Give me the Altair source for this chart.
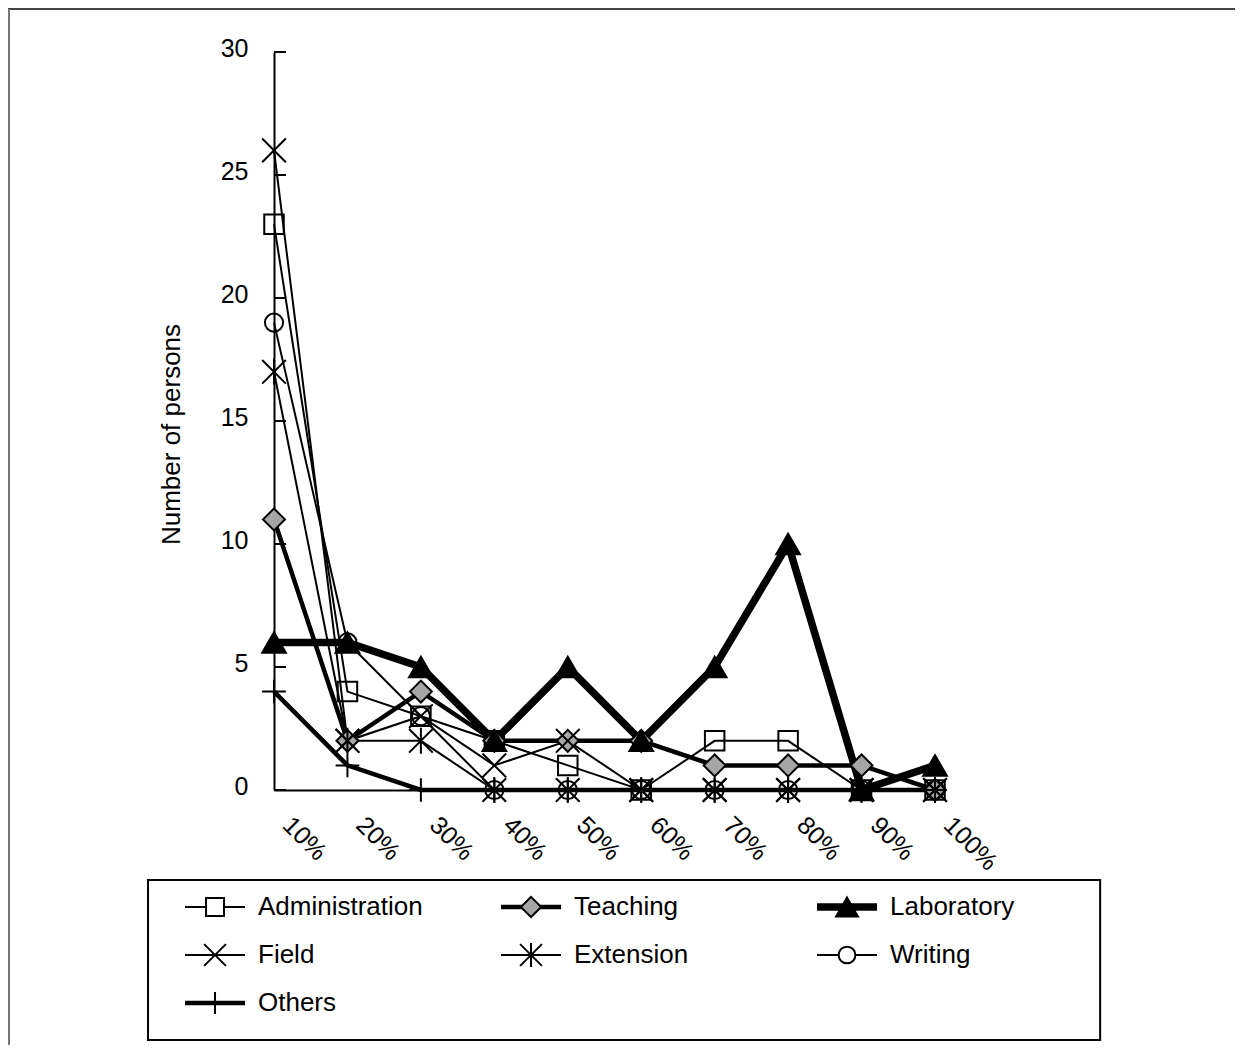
import altair as alt
import pandas as pd

# ---- data ----
categories = ["10%", "20%", "30%", "40%", "50%", "60%", "70%", "80%", "90%", "100%"]
series_names = ["Administration", "Teaching", "Laboratory", "Field", "Extension", "Writing", "Others"]
administration = [23, 4, 3, 2, 1, 0, 2, 2, 0, 0]
teaching = [11, 2, 4, 2, 2, 2, 1, 1, 1, 0]
laboratory = [6, 6, 5, 2, 5, 2, 5, 10, 0, 1]
field = [26, 2, 3, 1, 2, 0, 0, 0, 0, 0]
extension = [17, 2, 2, 0, 0, 0, 0, 0, 0, 0]
writing = [19, 6, 3, 0, 0, 0, 0, 0, 0, 0]
others = [4, 1, 0, 0, 0, 0, 0, 0, 0, 0]
y_ticks = [0, 5, 10, 15, 20, 25, 30]

all_values = [administration, teaching, laboratory, field, extension, writing, others]
rows = []
for name, vals in zip(series_names, all_values):
    for c, v in zip(categories, vals):
        rows.append({"series": name, "cat": c, "value": v})
df = pd.DataFrame(rows)
legend_df = pd.DataFrame({"series": series_names, "idx": list(range(len(series_names)))})
ticks_df = pd.DataFrame({"value": y_ticks})

# ---- styles ----
X_PATH = "M-1,-1L1,1M-1,1L1,-1"
AST_PATH = "M-1,-1L1,1M-1,1L1,-1M0,-1.1L0,1.1"
PLUS_PATH = "M0,-1L0,1M-1,0L1,0"
style = {
    "Administration": dict(shape="square", fill="transparent", size=380, lw=2),
    "Teaching": dict(shape="diamond", fill="#a6a6a6", size=480, lw=4.5),
    "Laboratory": dict(shape="triangle-up", fill="black", size=560, lw=7.5),
    "Field": dict(shape=X_PATH, fill="transparent", size=560, lw=2),
    "Extension": dict(shape=AST_PATH, fill="transparent", size=560, lw=2),
    "Writing": dict(shape="circle", fill="transparent", size=330, lw=2),
    "Others": dict(shape=PLUS_PATH, fill="transparent", size=560, lw=4.5),
}
line_order = ["Administration", "Field", "Extension", "Writing", "Teaching", "Others", "Laboratory"]

W, H = 661, 738
FONT = "Liberation Sans"

x_enc = alt.X("cat:N", sort=categories,
              scale=alt.Scale(type="point", padding=0, domain=categories),
              axis=alt.Axis(labelAngle=45, labelAlign="left", labelBaseline="top",
                            labelPadding=22, labelOffset=21, ticks=False,
                            domainColor="black", domainWidth=2, labelFontSize=25,
                            labelColor="black", title=None, grid=False, labelFont=FONT))
y_axis = alt.Axis(values=y_ticks, ticks=False, labelPadding=26, labelFontSize=25,
                  labelColor="black", labelOffset=-4, labelFont=FONT,
                  title="Number of persons", titleFontSize=26, titleFontWeight="normal",
                  titleColor="black", titlePadding=36, grid=False, titleFont=FONT,
                  titleY=382, domainColor="black", domainWidth=2)
y_scale = alt.Scale(domain=[0, 30], nice=False)
y_enc = alt.Y("value:Q", scale=y_scale, axis=y_axis)

base = alt.Chart(df)
line_layers = []
for name in line_order:
    s = style[name]
    line_layers.append(
        base.transform_filter(alt.datum.series == name)
        .mark_line(color="black", strokeWidth=s["lw"])
        .encode(x=x_enc, y=y_enc)
    )
point_layers = []
for name in series_names:
    s = style[name]
    point_layers.append(
        base.transform_filter(alt.datum.series == name)
        .mark_point(shape=s["shape"], size=s["size"], fill=s["fill"], filled=False,
                    stroke="black", strokeWidth=2, opacity=1)
        .encode(x=x_enc, y=y_enc)
    )
inner_ticks = alt.Chart(ticks_df).mark_rule(color="black", strokeWidth=2).encode(
    y=y_enc, x=alt.value(0), x2=alt.value(12),
)
main = alt.layer(*line_layers, inner_ticks, *point_layers)

# ---- legend (own scales, drawn below the plot) ----
lx_scale = alt.Scale(domain=[0, 3], range=[-89, 859], nice=False, zero=False)
ly_scale = alt.Scale(domain=[0, 2], range=[855, 951], nice=False, zero=False)
leg = alt.Chart(legend_df).transform_calculate(
    col="datum.idx % 3", row="floor(datum.idx / 3)"
).transform_calculate(
    x1="datum.col", x2="datum.col + 0.19", xm="datum.col + 0.095", xt="datum.col + 0.231"
)
leg_layers = []
for name in series_names:
    s = style[name]
    lf = leg.transform_filter(alt.datum.series == name)
    leg_layers.append(
        lf.mark_rule(color="black", strokeWidth=s["lw"]).encode(
            x=alt.X("x1:Q", scale=lx_scale, axis=None), x2="x2:Q",
            y=alt.Y("row:Q", scale=ly_scale, axis=None))
    )
    leg_layers.append(
        lf.mark_point(shape=s["shape"], size=s["size"] * 0.85,
                      fill=("white" if s["fill"] == "transparent" else s["fill"]), filled=False,
                      stroke="black", strokeWidth=2, opacity=1).encode(
            x=alt.X("xm:Q", scale=lx_scale, axis=None),
            y=alt.Y("row:Q", scale=ly_scale, axis=None))
    )
leg_text = leg.mark_text(align="left", baseline="middle", fontSize=26, font=FONT, color="black").encode(
    x=alt.X("xt:Q", scale=lx_scale, axis=None),
    y=alt.Y("row:Q", scale=ly_scale, axis=None),
    text="series:N",
)
box = alt.Chart(pd.DataFrame({"k": [0]})).transform_calculate(
    bx1="-0.117", bx2="2.896", by1="-0.5625", by2="2.77"
).mark_rect(fillOpacity=0, stroke="black", strokeWidth=2).encode(
    x=alt.X("bx1:Q", scale=lx_scale, axis=None), x2="bx2:Q",
    y=alt.Y("by1:Q", scale=ly_scale, axis=None), y2="by2:Q",
)
legend_layer = alt.layer(box, *leg_layers, leg_text)

frame_top = alt.Chart(pd.DataFrame({"k": [0]})).mark_rule(color="#444", strokeWidth=2).encode(
    x=alt.value(-266), x2=alt.value(980), y=alt.value(-43))
frame_left = alt.Chart(pd.DataFrame({"k": [0]})).mark_rule(color="#777", strokeWidth=2).encode(
    x=alt.value(-265), y=alt.value(-43), y2=alt.value(1010))
frame = alt.layer(frame_top, frame_left)

chart = alt.layer(main, legend_layer, frame).resolve_scale(
    x="independent", y="independent"
).properties(
    width=W, height=H,
    autosize=alt.AutoSizeParams(type="none"),
    padding={"left": 266, "top": 44, "right": 300, "bottom": 255},
).configure(
    font=FONT,
    view=alt.ViewConfig(stroke="transparent", strokeWidth=0),
)

chart.save("out.html", embed_options={"renderer": "svg", "actions": False})
